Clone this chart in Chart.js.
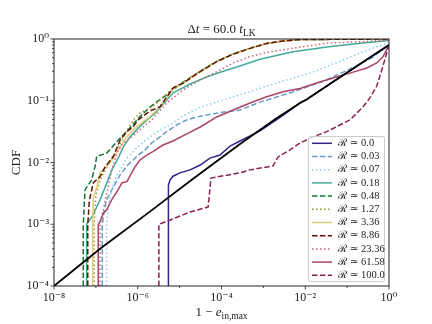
<!DOCTYPE html>
<html><head><meta charset="utf-8">
<script src="https://cdn.jsdelivr.net/npm/chart.js@4.4.1/dist/chart.umd.min.js"></script>
<style>html,body{margin:0;padding:0;background:#fff;}#wrap{width:432px;height:324px;}</style>
</head><body><div id="wrap"><canvas id="c" width="432" height="324"></canvas></div>
<script>
// ---- data ----
const rLabels = ['0.0','0.03','0.07','0.18','0.48','1.27','3.36','8.86','23.36','61.58','100.0'];
const xTickValues = [1e-8,1e-6,1e-4,1e-2,1];
const yTickValues = [1e-4,1e-3,1e-2,1e-1,1];

const xR0 = [5.4e-6,5.4e-6,5.9e-6,6.95e-6,1.02e-5,1.78e-5,3.1e-5,5.3e-5,9.2e-5,1.6e-4,2.77e-4,4.8e-4,8.3e-4,1.44e-3,2.5e-3,4.3e-3,7.5e-3,0.0108,0.040,0.204,1];
const yR0 = [1e-4,4.3e-3,5.2e-3,6.0e-3,6.8e-3,7.6e-3,9.1e-3,1.18e-2,1.32e-2,1.85e-2,2.23e-2,2.7e-2,3.24e-2,4.2e-2,5.4e-2,7.0e-2,9.2e-2,0.105,0.19,0.394,0.80];

const xR1 = [1.42e-7,1.42e-7,1.56e-7,1.8e-7,2.6e-7,3.8e-7,5.5e-7,7.8e-7,1.02e-6,1.5e-6,2.15e-6,3.4e-6,4.9e-6,8.5e-6,1.48e-5,2.6e-5,7.7e-5,2.75e-4,8.3e-4,5.1e-3,0.032,0.138,0.417,1];
const yR1 = [1e-4,1.0e-3,1.6e-3,2.5e-3,4.0e-3,6.3e-3,8.8e-3,1.1e-2,1.32e-2,1.6e-2,2.07e-2,2.6e-2,3.16e-2,4.05e-2,4.9e-2,5.46e-2,6.3e-2,7.1e-2,9.5e-2,0.139,0.217,0.345,0.51,0.80];

const xR2 = [1.8e-7,1.8e-7,2.0e-7,2.4e-7,3.0e-7,3.8e-7,5.5e-7,9.4e-7,1.35e-6,1.95e-6,3.4e-6,5.9e-6,1.2e-5,3.1e-5,7.7e-5,1.9e-4,4.8e-4,1.45e-3,5.1e-3,0.013,0.032,0.079,0.204,0.51,1];
const yR2 = [1e-4,1.0e-3,1.9e-3,3.6e-3,5.6e-3,7.6e-3,1.18e-2,1.72e-2,2.14e-2,2.59e-2,3.36e-2,4.07e-2,5.66e-2,7.9e-2,9.5e-2,0.116,0.14,0.18,0.233,0.28,0.356,0.457,0.593,0.75,0.86];

const xR3 = [6.0e-8,6.0e-8,8.5e-8,1.26e-7,1.74e-7,2.4e-7,3.4e-7,4.5e-7,6.5e-7,1.02e-6,1.66e-6,2.6e-6,4.5e-6,6.9e-6,1.78e-5,4.4e-5,1.1e-4,2.75e-4,8.3e-4,5.1e-3,0.033,0.204,1];
const yR3 = [1e-4,1.0e-3,1.4e-3,2.5e-3,4.3e-3,7.6e-3,1.18e-2,1.78e-2,2.59e-2,3.6e-2,4.9e-2,6.3e-2,9.5e-2,0.133,0.187,0.243,0.30,0.366,0.47,0.62,0.74,0.85,0.946];

const xR4 = [5.0e-8,5.0e-8,5.5e-8,7.9e-8,9.5e-8,1.05e-7,1.8e-7,3.4e-7,5.9e-7,1.12e-6,1.95e-6,4.9e-6,1.2e-5,3.1e-5,7.7e-5,1.9e-4,4.8e-4,1.2e-3,2.95e-3,7.5e-3,1];
const yR4 = [1e-4,1.0e-3,3.6e-3,5.2e-3,8.5e-3,1.26e-2,1.41e-2,2.29e-2,3.39e-2,5.5e-2,7.9e-2,0.125,0.198,0.30,0.435,0.575,0.71,0.85,0.93,0.98,1];

const xR5 = [9.1e-8,9.1e-8,1.0e-7,1.26e-7,1.95e-7,3.4e-7,5.2e-7,8.5e-7,1.12e-6,2.3e-6,6.9e-6,1.2e-5,3.1e-5,7.7e-5,1.9e-4,4.8e-4,1.2e-3,2.95e-3,7.5e-3,1];
const yR5 = [1e-4,1.0e-3,3.0e-3,5.2e-3,9.1e-3,1.72e-2,3.1e-2,5.2e-2,6.3e-2,8.0e-2,0.16,0.195,0.30,0.433,0.572,0.707,0.846,0.928,0.98,1];

const xR6 = [8.4e-8,8.4e-8,8.7e-8,1.05e-7,1.26e-7,1.8e-7,2.6e-7,3.4e-7,5.5e-7,7.8e-7,1.23e-6,1.95e-6,3.4e-6,6.9e-6,1.2e-5,3.1e-5,7.7e-5,1.9e-4,4.8e-4,1.2e-3,2.95e-3,7.5e-3,1];
const yR6 = [1e-4,1.0e-3,2.8e-3,3.9e-3,6.8e-3,8.5e-3,1.18e-2,1.6e-2,2.6e-2,3.4e-2,4.4e-2,5.5e-2,8.0e-2,0.155,0.19,0.295,0.43,0.57,0.705,0.845,0.928,0.98,1];

const xR7 = [6.4e-8,6.4e-8,7.0e-8,8.7e-8,1.26e-7,1.66e-7,2.6e-7,3.8e-7,5.5e-7,7.8e-7,1.02e-6,1.95e-6,3.4e-6,6.9e-6,1.2e-5,3.1e-5,7.7e-5,1.9e-4,4.8e-4,1.2e-3,2.95e-3,7.5e-3,1];
const yR7 = [1e-4,1.0e-3,2.45e-3,4.7e-3,5.9e-3,8.5e-3,1.24e-2,2.31e-2,3.16e-2,3.8e-2,4.9e-2,6.8e-2,8.0e-2,0.16,0.193,0.297,0.43,0.57,0.705,0.845,0.928,0.98,1];

const xR8 = [1.26e-7,1.26e-7,1.56e-7,1.95e-7,2.4e-7,3.2e-7,4.5e-7,7.2e-7,1.24e-6,2.15e-6,4.9e-6,1.2e-5,3.1e-5,7.7e-5,1.9e-4,4.8e-4,1.45e-3,5.1e-3,0.033,0.204,1];
const yR8 = [1e-4,1.0e-3,2.0e-3,3.9e-3,7.6e-3,1.43e-2,2.07e-2,2.6e-2,3.6e-2,4.9e-2,9.2e-2,0.149,0.217,0.295,0.41,0.52,0.62,0.71,0.86,0.90,0.96];

const xR9 = [1.14e-7,1.14e-7,1.26e-7,1.5e-7,1.8e-7,2.4e-7,3.4e-7,4.2e-7,5.5e-7,8.6e-7,1.13e-6,1.64e-6,2.3e-6,4.0e-6,6.95e-6,1.48e-5,3.1e-5,7.7e-5,1.9e-4,4.8e-4,1.2e-3,2.95e-3,7.5e-3,0.0188,0.046,0.116,0.295,0.51,0.72,1];
const yR9 = [1e-4,1.0e-3,1.1e-3,1.5e-3,1.7e-3,2.5e-3,3.6e-3,4.7e-3,4.9e-3,8.5e-3,1.1e-2,1.32e-2,1.5e-2,1.92e-2,2.23e-2,2.9e-2,3.76e-2,5.46e-2,7.08e-2,9.2e-2,0.116,0.14,0.158,0.194,0.233,0.28,0.339,0.41,0.52,0.80];

const xR10 = [3.2e-6,3.2e-6,4.5e-6,7.8e-6,1.78e-5,4.8e-5,5.6e-5,2.77e-4,4.8e-4,1.7e-3,2.24e-3,4.3e-3,7.5e-3,0.0153,0.0325,0.0676,0.117,0.17,0.24,0.35,0.51,0.72,0.895,1];
const yR10 = [1e-4,1.0e-3,1.09e-3,1.26e-3,1.58e-3,1.9e-3,5.6e-3,6.8e-3,7.6e-3,8.8e-3,1.23e-2,1.6e-2,2.07e-2,2.59e-2,3.16e-2,4.05e-2,4.9e-2,6.3e-2,8.0e-2,0.111,0.173,0.366,0.62,0.80];

const xRef = [1e-8,1.26e-7,1.95e-6,1.78e-5,2.77e-4,1.9e-3,7.5e-3,0.0108,0.040,0.204,1];
const yRef = [1.0e-4,4.0e-4,1.6e-3,5.0e-3,2.0e-2,5.0e-2,9.2e-2,0.105,0.19,0.394,0.80];

// ---- styles ----
const colors = ['#332288','#6699CC','#88CCEE','#44AA99','#117733','#999933','#DDCC77','#661100','#CC6677','#AA4466','#882255'];
const styles = ['solid','dashed','dotted'];
const dashFor = {solid: [], dashed: [5.5, 2.4], dotted: [1.5, 2.5]};
const seriesX = [xR0,xR1,xR2,xR3,xR4,xR5,xR6,xR7,xR8,xR9,xR10];
const seriesY = [yR0,yR1,yR2,yR3,yR4,yR5,yR6,yR7,yR8,yR9,yR10];

const SERIF = "'Liberation Serif','DejaVu Serif',serif";
const pts = (xs, ys) => xs.map((x, i) => ({x: x, y: ys[i]}));
const SUP = {'0':'⁰','1':'¹','2':'²','3':'³','4':'⁴','5':'⁵','6':'⁶','7':'⁷','8':'⁸','9':'⁹','-':'⁻'};
const powLabel = v => '10' + String(Math.round(Math.log10(v))).split('').map(c => SUP[c]).join('');

const datasets = rLabels.map((lab, i) => ({
  label: 'ℛ ≃ ' + lab,
  data: pts(seriesX[i], seriesY[i]),
  borderColor: colors[i],
  borderWidth: 1.5,
  borderDash: dashFor[styles[i % 3]],
  pointRadius: 0,
  tension: 0,
  fill: false,
  order: 100 - i
}));
datasets.push({
  label: 'reference',
  data: pts(xRef, yRef),
  borderColor: '#000000',
  borderWidth: 1.8,
  pointRadius: 0,
  tension: 0,
  fill: false,
  order: 0
});

function drawRich(ctx, parts, cx, baseline) {
  let total = 0;
  parts.forEach(p => { ctx.font = (p.italic ? 'italic ' : '') + p.size + 'px ' + SERIF; p.w = ctx.measureText(p.t).width; total += p.w; });
  let x = cx - total / 2;
  ctx.textBaseline = 'alphabetic'; ctx.textAlign = 'left';
  parts.forEach(p => { ctx.font = (p.italic ? 'italic ' : '') + p.size + 'px ' + SERIF; ctx.fillText(p.t, x, baseline + (p.dy || 0)); x += p.w; });
}

const decor = {
  id: 'decor',
  afterDatasetsDraw(chart) {
    const ctx = chart.ctx, a = chart.chartArea, xs = chart.scales.x, ys = chart.scales.y;
    ctx.save();
    // frame
    ctx.strokeStyle = '#222'; ctx.lineWidth = 1;
    ctx.strokeRect(a.left, a.top, a.right - a.left, a.bottom - a.top);
    // ticks
    ctx.strokeStyle = '#222'; ctx.lineWidth = 0.8;
    const tick = (x1, y1, x2, y2) => { ctx.beginPath(); ctx.moveTo(x1, y1); ctx.lineTo(x2, y2); ctx.stroke(); };
    for (let e = -8; e <= 0; e++) {
      const px = xs.getPixelForValue(Math.pow(10, e));
      tick(px, a.bottom, px, a.bottom + (e % 2 === 0 ? 3.5 : 2));
    }
    for (let e = -4; e <= 0; e++) {
      const py = ys.getPixelForValue(Math.pow(10, e));
      tick(a.left, py, a.left - 3.5, py);
      if (e < 0) for (let m = 2; m <= 9; m++) {
        const pm = ys.getPixelForValue(m * Math.pow(10, e));
        tick(a.left, pm, a.left - 2, pm);
      }
    }
    // legend
    const lx = 308, ly = 136, lw = 76, lh = 145;
    ctx.fillStyle = 'rgba(255,255,255,0.8)'; ctx.strokeStyle = '#cccccc'; ctx.lineWidth = 1;
    ctx.beginPath(); ctx.roundRect(lx + 0.5, ly + 0.5, lw, lh, 2); ctx.fill(); ctx.stroke();
    rLabels.forEach((lab, i) => {
      const yy = 143.3 + 13.2 * i;
      const ds = chart.data.datasets[i];
      ctx.strokeStyle = ds.borderColor; ctx.lineWidth = 1.5; ctx.setLineDash(ds.borderDash);
      ctx.beginPath(); ctx.moveTo(312, yy); ctx.lineTo(332, yy); ctx.stroke();
      ctx.setLineDash([]);
      ctx.fillStyle = '#222'; ctx.font = '10.5px ' + SERIF; ctx.textBaseline = 'middle'; ctx.textAlign = 'left';
      ctx.fillText(ds.label, 338, yy);
    });
    // title
    ctx.fillStyle = '#222';
    drawRich(ctx, [{t:'Δ',size:13},{t:'t',size:13,italic:true},{t:' = 60.0 ',size:13},{t:'t',size:13,italic:true},{t:'LK',size:9.5,dy:2.5}], (a.left + a.right) / 2, 33);
    // x label
    drawRich(ctx, [{t:'1 − ',size:13},{t:'e',size:13,italic:true},{t:'in,max',size:9.5,dy:3}], (a.left + a.right) / 2, 316);
    // y label
    ctx.save(); ctx.translate(20, (a.top + a.bottom) / 2); ctx.rotate(-Math.PI / 2);
    ctx.font = '13px ' + SERIF; ctx.textAlign = 'center'; ctx.textBaseline = 'alphabetic';
    ctx.fillText('CDF', 0, 0); ctx.restore();
    ctx.restore();
  }
};

new Chart(document.getElementById('c'), {
  type: 'line',
  data: { datasets: datasets },
  options: {
    responsive: false, animation: false, devicePixelRatio: 1,
    layout: { padding: { top: 39, right: 43, left: 0, bottom: 0 } },
    plugins: { legend: { display: false }, tooltip: { enabled: false }, title: { display: false } },
    scales: {
      x: {
        type: 'logarithmic', min: 1e-8, max: 1,
        afterBuildTicks: s => { s.ticks = xTickValues.map(v => ({ value: v })); },
        afterFit: s => { s.height = 38; },
        grid: { display: false, drawTicks: false }, border: { display: false },
        ticks: { autoSkip: false, maxRotation: 0, padding: 5, color: '#222', font: { family: SERIF, size: 12 }, callback: v => powLabel(v) }
      },
      y: {
        type: 'logarithmic', min: 1e-4, max: 1,
        afterBuildTicks: s => { s.ticks = yTickValues.map(v => ({ value: v })); },
        afterFit: s => { s.width = 54; },
        grid: { display: false, drawTicks: false }, border: { display: false },
        ticks: { autoSkip: false, padding: 5, color: '#222', font: { family: SERIF, size: 12 }, callback: v => powLabel(v) }
      }
    }
  },
  plugins: [decor]
});
</script>
</body></html>
